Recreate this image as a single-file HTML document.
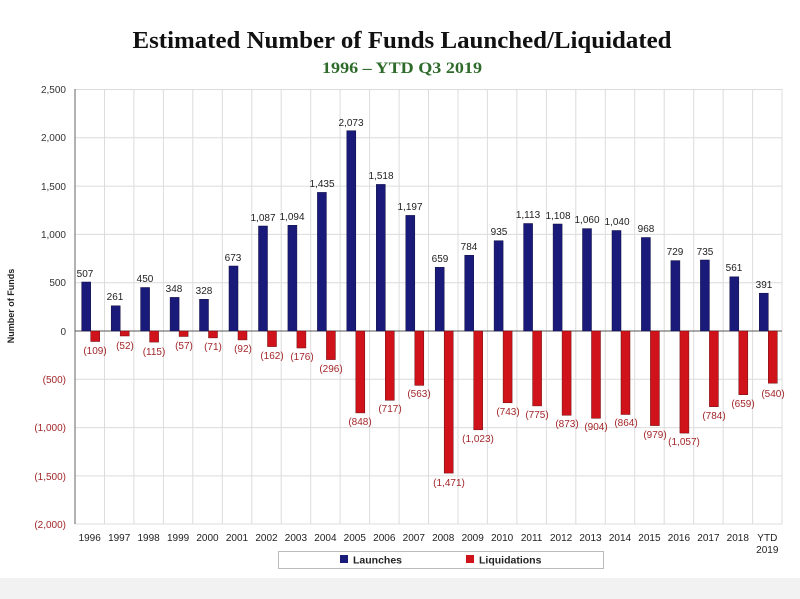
<!DOCTYPE html>
<html><head><meta charset="utf-8"><style>
html,body{margin:0;padding:0;background:#fff;}
svg{display:block;}
.b{font-family:"Liberation Sans",sans-serif;font-size:10px;fill:#222;text-anchor:middle;}
.r{font-family:"Liberation Sans",sans-serif;font-size:10px;fill:#a3262a;text-anchor:middle;}
.y{font-family:"Liberation Sans",sans-serif;font-size:10px;fill:#333;text-anchor:end;}
.yr{font-family:"Liberation Sans",sans-serif;font-size:10px;fill:#a3262a;text-anchor:end;}
.x{font-family:"Liberation Sans",sans-serif;font-size:10px;fill:#222;text-anchor:middle;}
</style></head><body>
<svg width="800" height="599" viewBox="0 0 800 599" xmlns="http://www.w3.org/2000/svg">
<rect x="0" y="0" width="800" height="599" fill="#fff"/>
<rect x="0" y="578" width="800" height="21" fill="#f2f2f2"/>
<text x="402" y="48" text-anchor="middle" font-family="Liberation Serif,serif" font-weight="bold" font-size="24" fill="#111" textLength="539" lengthAdjust="spacingAndGlyphs">Estimated Number of Funds Launched/Liquidated</text>
<text x="402" y="73" text-anchor="middle" font-family="Liberation Serif,serif" font-weight="bold" font-size="16" fill="#2e6b2a" textLength="160" lengthAdjust="spacingAndGlyphs">1996 – YTD Q3 2019</text>
<g stroke="#dcdcdc" stroke-width="1">
<line x1="75" y1="89.5" x2="782" y2="89.5"/><line x1="75" y1="137.8" x2="782" y2="137.8"/><line x1="75" y1="186.1" x2="782" y2="186.1"/><line x1="75" y1="234.4" x2="782" y2="234.4"/><line x1="75" y1="282.7" x2="782" y2="282.7"/><line x1="75" y1="379.3" x2="782" y2="379.3"/><line x1="75" y1="427.6" x2="782" y2="427.6"/><line x1="75" y1="475.9" x2="782" y2="475.9"/><line x1="75" y1="524" x2="782" y2="524"/>
<line x1="104.5" y1="89" x2="104.5" y2="524"/><line x1="133.9" y1="89" x2="133.9" y2="524"/><line x1="163.4" y1="89" x2="163.4" y2="524"/><line x1="192.8" y1="89" x2="192.8" y2="524"/><line x1="222.3" y1="89" x2="222.3" y2="524"/><line x1="251.8" y1="89" x2="251.8" y2="524"/><line x1="281.2" y1="89" x2="281.2" y2="524"/><line x1="310.7" y1="89" x2="310.7" y2="524"/><line x1="340.1" y1="89" x2="340.1" y2="524"/><line x1="369.6" y1="89" x2="369.6" y2="524"/><line x1="399.1" y1="89" x2="399.1" y2="524"/><line x1="428.5" y1="89" x2="428.5" y2="524"/><line x1="458" y1="89" x2="458" y2="524"/><line x1="487.4" y1="89" x2="487.4" y2="524"/><line x1="516.9" y1="89" x2="516.9" y2="524"/><line x1="546.4" y1="89" x2="546.4" y2="524"/><line x1="575.8" y1="89" x2="575.8" y2="524"/><line x1="605.3" y1="89" x2="605.3" y2="524"/><line x1="634.7" y1="89" x2="634.7" y2="524"/><line x1="664.2" y1="89" x2="664.2" y2="524"/><line x1="693.7" y1="89" x2="693.7" y2="524"/><line x1="723.1" y1="89" x2="723.1" y2="524"/><line x1="752.6" y1="89" x2="752.6" y2="524"/><line x1="782" y1="89" x2="782" y2="524"/>
</g>
<line x1="75" y1="89" x2="75" y2="524" stroke="#666"/>
<line x1="75" y1="331" x2="782" y2="331" stroke="#555"/>
<g>
<text class="y" x="66" y="93">2,500</text><text class="y" x="66" y="141">2,000</text><text class="y" x="66" y="190">1,500</text><text class="y" x="66" y="238">1,000</text><text class="y" x="66" y="286">500</text><text class="y" x="66" y="335">0</text>
<text class="yr" x="66" y="383">(500)</text><text class="yr" x="66" y="431">(1,000)</text><text class="yr" x="66" y="480">(1,500)</text><text class="yr" x="66" y="528">(2,000)</text>
</g>
<text transform="translate(14,306) rotate(-90)" text-anchor="middle" font-family="Liberation Sans,sans-serif" font-weight="bold" font-size="9" fill="#222">Number of Funds</text>
<g fill="#1a1a7a" stroke="#0d0d40" stroke-width="0.5">
<rect x="81.7" y="282" width="9" height="49"/>
<rect x="111.2" y="305.8" width="9" height="25.2"/>
<rect x="140.6" y="287.5" width="9" height="43.5"/>
<rect x="170.1" y="297.4" width="9" height="33.6"/>
<rect x="199.5" y="299.3" width="9" height="31.7"/>
<rect x="229" y="266" width="9" height="65"/>
<rect x="258.5" y="226" width="9" height="105"/>
<rect x="287.9" y="225.3" width="9" height="105.7"/>
<rect x="317.4" y="192.4" width="9" height="138.6"/>
<rect x="346.8" y="130.7" width="9" height="200.3"/>
<rect x="376.3" y="184.4" width="9" height="146.6"/>
<rect x="405.8" y="215.4" width="9" height="115.6"/>
<rect x="435.2" y="267.3" width="9" height="63.7"/>
<rect x="464.7" y="255.3" width="9" height="75.7"/>
<rect x="494.1" y="240.7" width="9" height="90.3"/>
<rect x="523.6" y="223.5" width="9" height="107.5"/>
<rect x="553.1" y="224" width="9" height="107"/>
<rect x="582.5" y="228.6" width="9" height="102.4"/>
<rect x="612" y="230.5" width="9" height="100.5"/>
<rect x="641.4" y="237.5" width="9" height="93.5"/>
<rect x="670.9" y="260.6" width="9" height="70.4"/>
<rect x="700.4" y="260" width="9" height="71"/>
<rect x="729.8" y="276.8" width="9" height="54.2"/>
<rect x="759.3" y="293.2" width="9" height="37.8"/>
</g>
<g fill="#d0121b" stroke="#6a0a0e" stroke-width="0.5">
<rect x="90.7" y="331" width="9" height="10.5"/>
<rect x="120.2" y="331" width="9" height="5"/>
<rect x="149.6" y="331" width="9" height="11.1"/>
<rect x="179.1" y="331" width="9" height="5.5"/>
<rect x="208.5" y="331" width="9" height="6.9"/>
<rect x="238" y="331" width="9" height="8.9"/>
<rect x="267.5" y="331" width="9" height="15.6"/>
<rect x="296.9" y="331" width="9" height="17"/>
<rect x="326.4" y="331" width="9" height="28.6"/>
<rect x="355.8" y="331" width="9" height="81.9"/>
<rect x="385.3" y="331" width="9" height="69.3"/>
<rect x="414.8" y="331" width="9" height="54.4"/>
<rect x="444.2" y="331" width="9" height="142.1"/>
<rect x="473.7" y="331" width="9" height="98.8"/>
<rect x="503.1" y="331" width="9" height="71.8"/>
<rect x="532.6" y="331" width="9" height="74.9"/>
<rect x="562.1" y="331" width="9" height="84.3"/>
<rect x="591.5" y="331" width="9" height="87.3"/>
<rect x="621" y="331" width="9" height="83.5"/>
<rect x="650.4" y="331" width="9" height="94.6"/>
<rect x="679.9" y="331" width="9" height="102.1"/>
<rect x="709.4" y="331" width="9" height="75.7"/>
<rect x="738.8" y="331" width="9" height="63.7"/>
<rect x="768.3" y="331" width="9" height="52.2"/>
</g>
<g>
<text class="b" x="85" y="277">507</text>
<text class="b" x="115" y="300">261</text>
<text class="b" x="145" y="282">450</text>
<text class="b" x="174" y="292">348</text>
<text class="b" x="204" y="294">328</text>
<text class="b" x="233" y="261">673</text>
<text class="b" x="263" y="221">1,087</text>
<text class="b" x="292" y="220">1,094</text>
<text class="b" x="322" y="187">1,435</text>
<text class="b" x="351" y="126">2,073</text>
<text class="b" x="381" y="179">1,518</text>
<text class="b" x="410" y="210">1,197</text>
<text class="b" x="440" y="262">659</text>
<text class="b" x="469" y="250">784</text>
<text class="b" x="499" y="235">935</text>
<text class="b" x="528" y="218">1,113</text>
<text class="b" x="558" y="219">1,108</text>
<text class="b" x="587" y="223">1,060</text>
<text class="b" x="617" y="225">1,040</text>
<text class="b" x="646" y="232">968</text>
<text class="b" x="675" y="255">729</text>
<text class="b" x="705" y="255">735</text>
<text class="b" x="734" y="271">561</text>
<text class="b" x="764" y="288">391</text>
</g>
<g>
<text class="r" x="95" y="354">(109)</text>
<text class="r" x="125" y="349">(52)</text>
<text class="r" x="154" y="355">(115)</text>
<text class="r" x="184" y="349">(57)</text>
<text class="r" x="213" y="350">(71)</text>
<text class="r" x="243" y="352">(92)</text>
<text class="r" x="272" y="359">(162)</text>
<text class="r" x="302" y="360">(176)</text>
<text class="r" x="331" y="372">(296)</text>
<text class="r" x="360" y="425">(848)</text>
<text class="r" x="390" y="412">(717)</text>
<text class="r" x="419" y="397">(563)</text>
<text class="r" x="449" y="486">(1,471)</text>
<text class="r" x="478" y="442">(1,023)</text>
<text class="r" x="508" y="415">(743)</text>
<text class="r" x="537" y="418">(775)</text>
<text class="r" x="567" y="427">(873)</text>
<text class="r" x="596" y="430">(904)</text>
<text class="r" x="626" y="426">(864)</text>
<text class="r" x="655" y="438">(979)</text>
<text class="r" x="684" y="445">(1,057)</text>
<text class="r" x="714" y="419">(784)</text>
<text class="r" x="743" y="407">(659)</text>
<text class="r" x="773" y="397">(540)</text>
</g>
<g>
<text class="x" x="89.7" y="541">1996</text><text class="x" x="119.2" y="541">1997</text><text class="x" x="148.6" y="541">1998</text><text class="x" x="178.1" y="541">1999</text><text class="x" x="207.5" y="541">2000</text><text class="x" x="237" y="541">2001</text><text class="x" x="266.5" y="541">2002</text><text class="x" x="295.9" y="541">2003</text><text class="x" x="325.4" y="541">2004</text><text class="x" x="354.8" y="541">2005</text><text class="x" x="384.3" y="541">2006</text><text class="x" x="413.8" y="541">2007</text><text class="x" x="443.2" y="541">2008</text><text class="x" x="472.7" y="541">2009</text><text class="x" x="502.1" y="541">2010</text><text class="x" x="531.6" y="541">2011</text><text class="x" x="561.1" y="541">2012</text><text class="x" x="590.5" y="541">2013</text><text class="x" x="620" y="541">2014</text><text class="x" x="649.4" y="541">2015</text><text class="x" x="678.9" y="541">2016</text><text class="x" x="708.4" y="541">2017</text><text class="x" x="737.8" y="541">2018</text><text class="x" x="767.3" y="541">YTD</text><text class="x" x="767.3" y="553">2019</text>
</g>
<rect x="278.5" y="551.5" width="325" height="17" fill="#fff" stroke="#bbb"/>
<rect x="340" y="555" width="8" height="8" fill="#1a1a7a"/>
<text x="353" y="563.5" font-family="Liberation Sans,sans-serif" font-weight="bold" font-size="10.5" fill="#222">Launches</text>
<rect x="466" y="555" width="8" height="8" fill="#d0121b"/>
<text x="479" y="563.5" font-family="Liberation Sans,sans-serif" font-weight="bold" font-size="10.5" fill="#222">Liquidations</text>
</svg>
</body></html>
